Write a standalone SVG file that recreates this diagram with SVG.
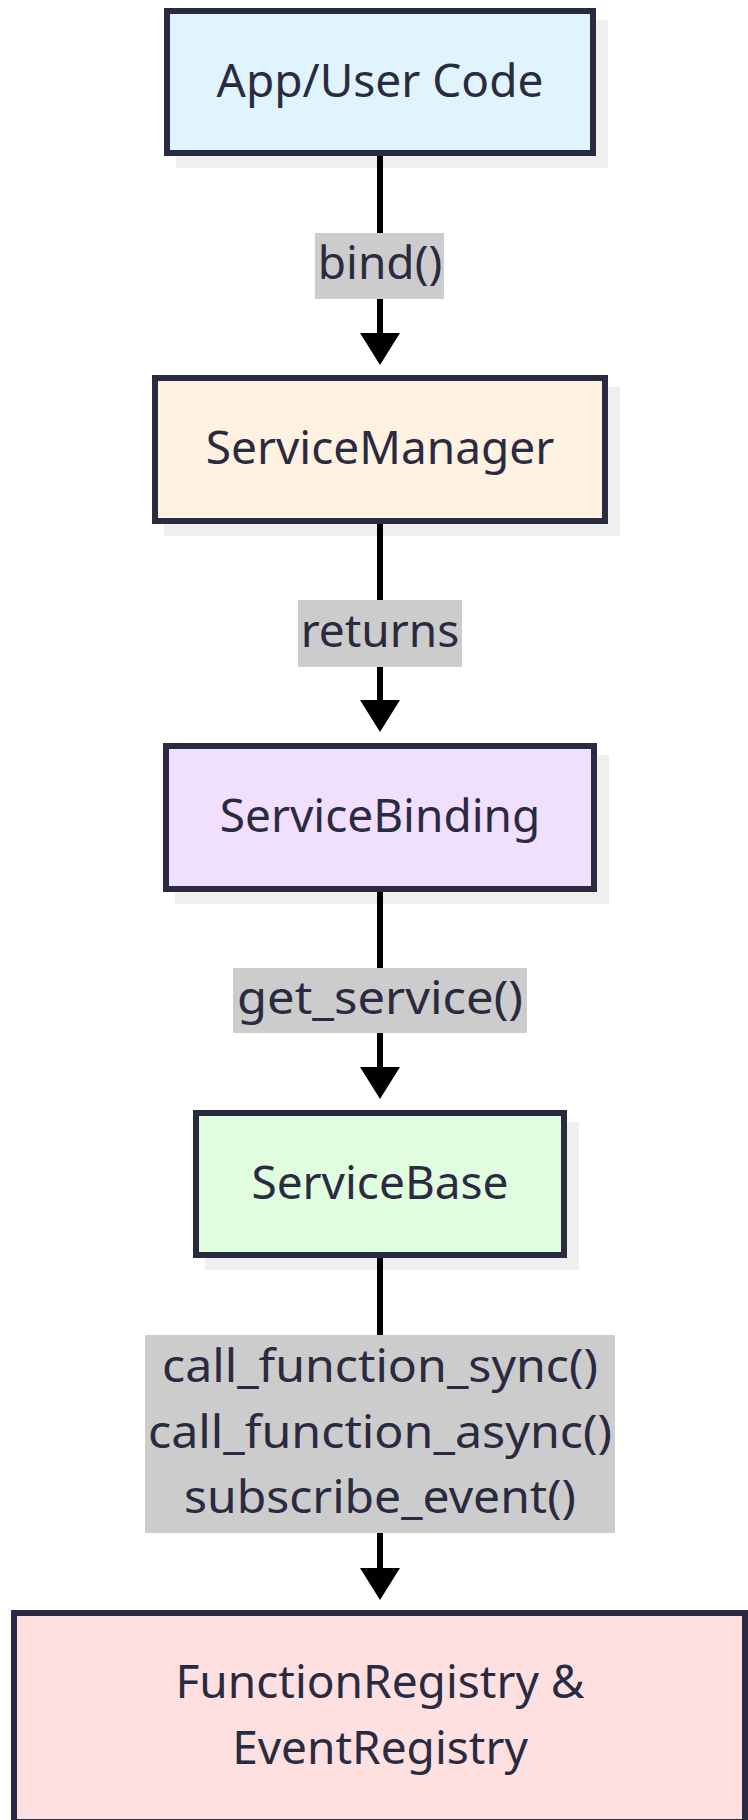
<svg xmlns="http://www.w3.org/2000/svg" width="748" height="1820" viewBox="0 0 748 1820">
  <defs>
    <style>
      .bg { fill: #ffffff; }
      .shadow { fill: #efefef; }
      .box { stroke: #2a2a40; stroke-width: 6; }
      .lbl { font-family: "Noto Sans", "Open Sans", sans-serif; font-size: 46px; fill: #2a2a40; text-anchor: middle; }
      .edge { stroke: #000000; stroke-width: 6; fill: none; }
      .elbl { fill: #cccccc; }
    </style>
    <marker id="arrow" markerUnits="userSpaceOnUse" viewBox="0 0 32 40" markerWidth="32" markerHeight="40" refX="0" refY="20" orient="auto">
      <path d="M0,0 L32,20 L0,40 Z" fill="#000000"/>
    </marker>
  </defs>
  <rect class="bg" x="0" y="0" width="748" height="1820"/>

  <g id="node-app">
    <rect class="shadow" x="176" y="20" width="432" height="148"/>
    <rect class="box" x="167" y="11" width="426" height="142" fill="#e0f4fd"/>
    <text class="lbl" x="380" y="97">App/User Code</text>
  </g>

  <g id="node-service-manager">
    <rect class="shadow" x="164" y="387" width="456" height="149"/>
    <rect class="box" x="155" y="378" width="450" height="143" fill="#fff2e0"/>
    <text class="lbl" x="380" y="464">ServiceManager</text>
  </g>

  <g id="node-service-binding">
    <rect class="shadow" x="175" y="755" width="434" height="149"/>
    <rect class="box" x="166" y="746" width="428" height="143" fill="#f0e0fd"/>
    <text class="lbl" x="380" y="832">ServiceBinding</text>
  </g>

  <g id="node-service-base">
    <rect class="shadow" x="205" y="1122" width="374" height="148"/>
    <rect class="box" x="196" y="1113" width="368" height="142" fill="#e0fde0"/>
    <text class="lbl" x="380" y="1199">ServiceBase</text>
  </g>

  <g id="node-registry">
    <rect class="shadow" x="23" y="1622" width="737" height="215"/>
    <rect class="box" x="14" y="1613" width="731" height="209" fill="#fee0e0"/>
    <text class="lbl" x="380" y="1698">FunctionRegistry &amp;</text>
    <text class="lbl" x="380" y="1764">EventRegistry</text>
  </g>

  <g id="connectors">
    <line class="edge" x1="380" y1="156" x2="380" y2="333" marker-end="url(#arrow)"/>
    <line class="edge" x1="380" y1="524" x2="380" y2="700" marker-end="url(#arrow)"/>
    <line class="edge" x1="380" y1="892" x2="380" y2="1067" marker-end="url(#arrow)"/>
    <line class="edge" x1="380" y1="1258" x2="380" y2="1568" marker-end="url(#arrow)"/>
    <g id="label-bind">
      <rect class="elbl" x="315" y="233" width="129" height="66"/>
      <text class="lbl" x="380" y="279">bind()</text>
    </g>
    <g id="label-returns">
      <rect class="elbl" x="298" y="600" width="164" height="67"/>
      <text class="lbl" x="380" y="647">returns</text>
    </g>
    <g id="label-get-service">
      <rect class="elbl" x="233" y="968" width="294" height="65"/>
      <text class="lbl" x="380" y="1014" textLength="286" lengthAdjust="spacingAndGlyphs">get_service()</text>
    </g>
    <g id="label-calls">
      <rect class="elbl" x="145" y="1335" width="470" height="198"/>
      <text class="lbl" x="380" y="1382" textLength="436" lengthAdjust="spacingAndGlyphs">call_function_sync()</text>
      <text class="lbl" x="380" y="1448" textLength="464" lengthAdjust="spacingAndGlyphs">call_function_async()</text>
      <text class="lbl" x="380" y="1513" textLength="392" lengthAdjust="spacingAndGlyphs">subscribe_event()</text>
    </g>
  </g>
</svg>
